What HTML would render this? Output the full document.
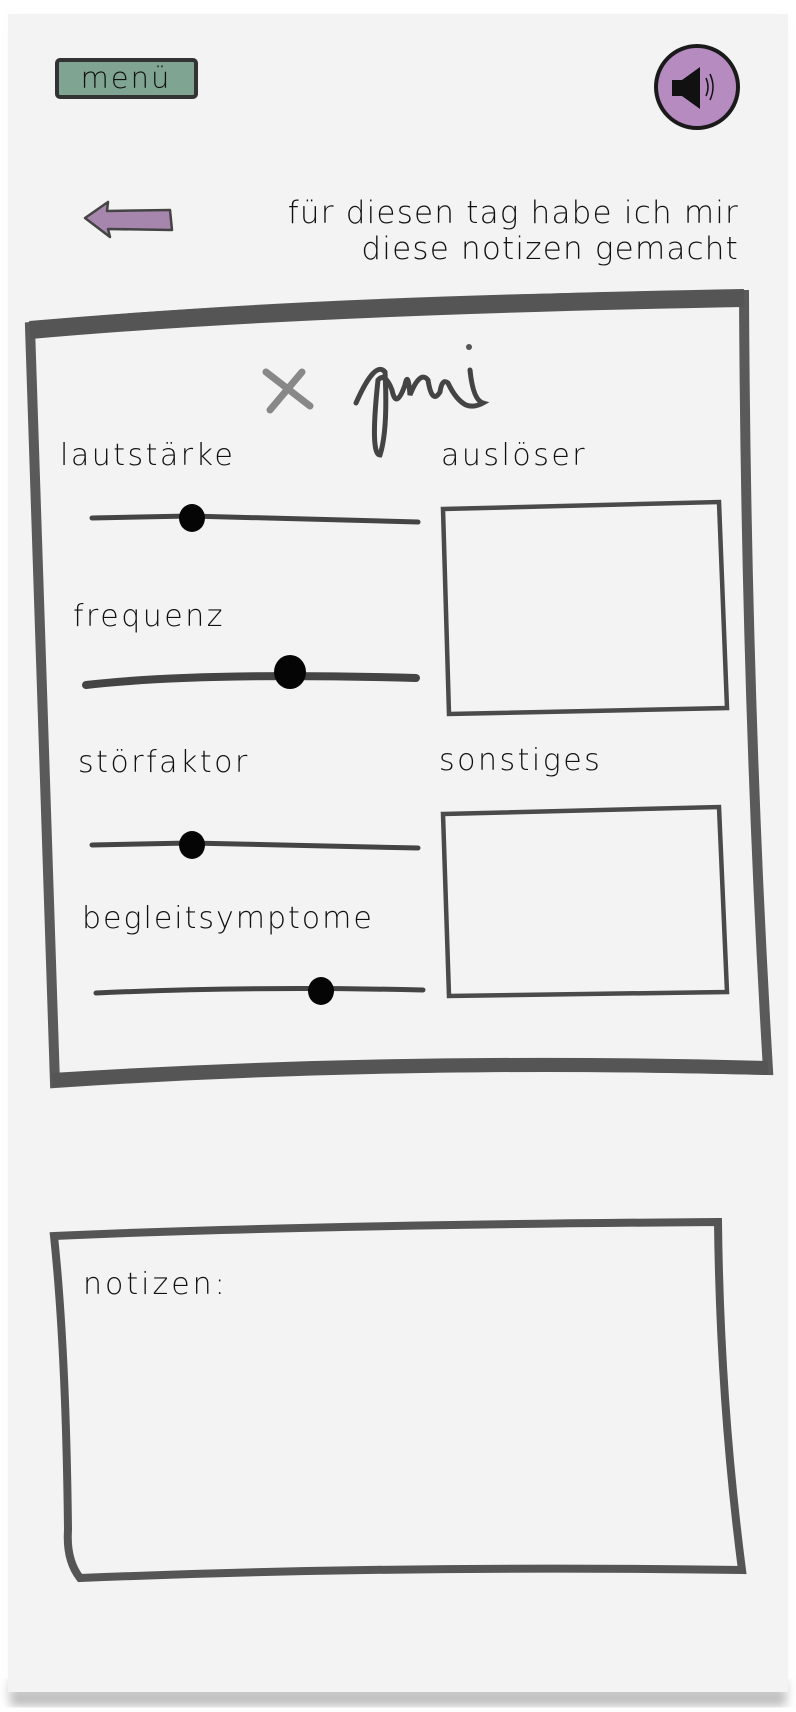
<!DOCTYPE html>
<html><head><meta charset="utf-8"><style>
html,body{margin:0;padding:0;background:#fff;}
svg{display:block}
text{font-family:"DejaVu Sans","Liberation Sans",sans-serif;font-weight:200;fill:#111}
</style></head><body>
<svg width="796" height="1712" viewBox="0 0 796 1712" xmlns="http://www.w3.org/2000/svg">
<defs><filter id="b" x="-5%" y="-5%" width="110%" height="110%"><feGaussianBlur stdDeviation="5"/></filter></defs>
<rect x="10" y="1680" width="776" height="26" fill="#bbb" filter="url(#b)"/>
<rect x="8" y="14" width="780" height="1680" fill="#f3f3f3" filter="url(#b)" opacity="0.4"/>
<rect x="8" y="14" width="780" height="1678" fill="#f3f3f3"/>
<!-- menu -->
<rect x="57" y="60" width="139" height="37" fill="#7fa592" stroke="#333" stroke-width="4" rx="3"/>
<text x="126" y="88" font-size="29" text-anchor="middle" letter-spacing="2">menü</text>
<!-- speaker -->
<circle cx="697" cy="87" r="41" fill="#b68cc0" stroke="#1a1a1a" stroke-width="4"/>
<path d="M672 80 h10 l18 -13 v42 l-18 -13 h-10z" fill="#111"/>
<path d="M706 78 q4 9 0 18 M710 74 q6 13 0 26" stroke="#111" stroke-width="1.5" fill="none"/>
<!-- back arrow -->
<path d="M85 218 L108 202 L107 211 L170 210 L172 230 L108 229 L110 237 Z" fill="#a786ad" stroke="#444" stroke-width="2.5" stroke-linejoin="round"/>
<!-- heading -->
<text x="739" y="223" font-size="31" text-anchor="end" letter-spacing="1.2">für diesen tag habe ich mir</text>
<text x="739" y="259" font-size="31" text-anchor="end" letter-spacing="1.2">diese notizen gemacht</text>
<!-- big box -->
<path d="M30 327 Q300 300 744 295 Q746 700 768 1070 Q400 1060 55 1083 Q44 700 30 327 Z" fill="none" stroke="#5a5a5a" stroke-width="10"/>
<path d="M30 330 Q300 306 744 298" fill="none" stroke="#555" stroke-width="18"/>
<path d="M52 1080 Q400 1058 768 1068" fill="none" stroke="#555" stroke-width="14"/>
<!-- x juni -->
<path d="M266 372 L310 406 M302 372 L270 410" stroke="#888" stroke-width="7" stroke-linecap="round"/>
<path d="M356 403 Q375 360 385 372 Q388 430 380 455 Q370 455 378 380 Q385 372 392 390 Q396 410 405 385 Q408 370 410 395 Q420 370 428 380 Q432 405 440 392 Q442 378 448 383 Q456 400 466 405 Q474 408 483 403 Q473 400 470 370" fill="none" stroke="#444" stroke-width="5" stroke-linecap="round"/>
<circle cx="469" cy="347" r="3" fill="#555"/>
<!-- labels -->
<g font-size="30" letter-spacing="2.5">
<text x="60" y="465">lautstärke</text>
<text x="441" y="465">auslöser</text>
<text x="73" y="626">frequenz</text>
<text x="78" y="772">störfaktor</text>
<text x="439" y="770">sonstiges</text>
<text x="82" y="928" letter-spacing="2">begleitsymptome</text>
</g>
<!-- sliders -->
<g stroke="#444" stroke-linecap="round" fill="none">
<path d="M92 518 L190 516 L418 522" stroke-width="5"/>
<path d="M86 685 Q200 672 416 678" stroke-width="8"/>
<path d="M92 845 L190 843 L418 848" stroke-width="5"/>
<path d="M96 993 Q250 986 423 990" stroke-width="5"/>
</g>
<ellipse cx="192" cy="518" rx="13" ry="14" fill="#050505"/>
<ellipse cx="290" cy="672" rx="16" ry="17" fill="#050505"/>
<ellipse cx="192" cy="845" rx="13" ry="14" fill="#050505"/>
<ellipse cx="321" cy="991" rx="13" ry="14" fill="#050505"/>
<!-- small boxes -->
<path d="M443 509 L719 502 L727 708 L449 714 Z" fill="none" stroke="#4a4a4a" stroke-width="4.5"/>
<path d="M443 814 L719 807 L727 992 L449 996 Z" fill="none" stroke="#4a4a4a" stroke-width="4.5"/>
<!-- notizen box -->
<path d="M54 1236 Q300 1225 718 1222 Q720 1400 742 1570 Q400 1565 80 1578 Q66 1560 68 1530 Q66 1350 54 1236 Z" fill="none" stroke="#555" stroke-width="8"/>
<text x="83" y="1294" font-size="30" letter-spacing="3">notizen:</text>
</svg>
</body></html>
